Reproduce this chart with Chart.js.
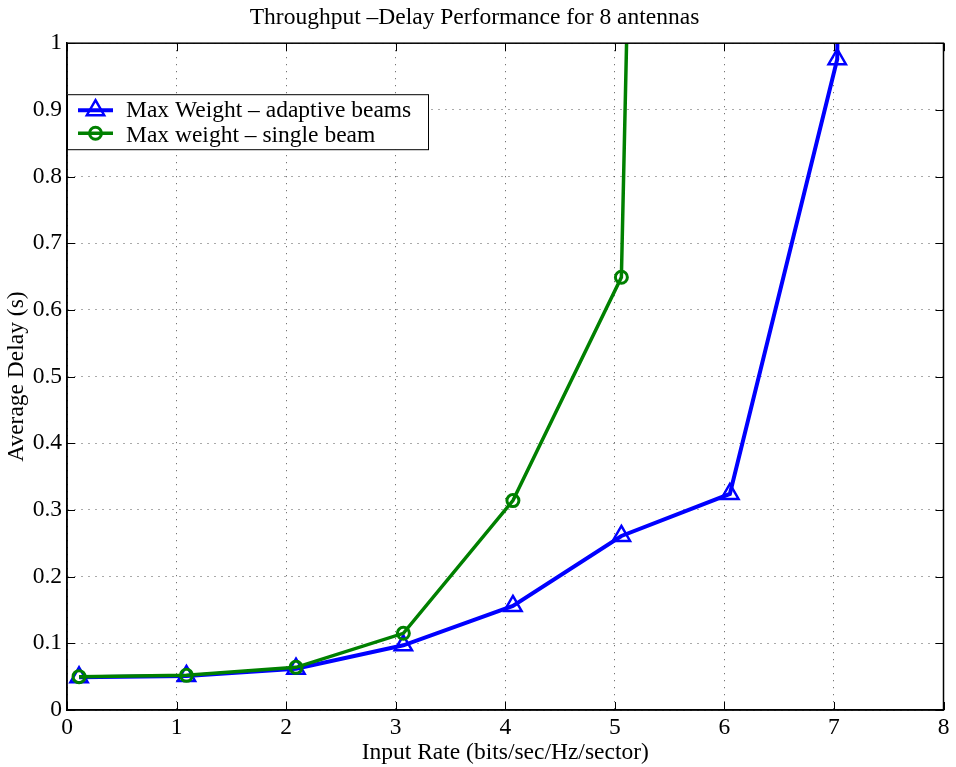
<!DOCTYPE html>
<html>
<head>
<meta charset="utf-8">
<script src="https://cdn.jsdelivr.net/npm/chart.js@4/dist/chart.umd.min.js"></script>
<style>
    html, body { margin: 0; padding: 0; background: #fff; }
    #wrap { width: 956px; height: 767px; }
</style>
</head>
<body>
<div id="wrap"><canvas id="delayChart" width="956" height="767"></canvas></div>
<script>
// Throughput-delay data
const adaptiveRate  = [0.11, 1.09, 2.09, 3.07, 4.07, 5.06, 6.05, 7.03, 8.0];
const adaptiveDelay = [0.049, 0.051, 0.062, 0.097, 0.156, 0.261, 0.324, 0.976, 20];
const singleRate    = [0.11, 1.09, 2.09, 3.07, 4.07, 5.06, 6.05];
const singleDelay   = [0.050, 0.052, 0.064, 0.115, 0.314, 0.649, 8];
const xTicks = [0, 1, 2, 3, 4, 5, 6, 7, 8];
const yTicks = [0, 0.1, 0.2, 0.3, 0.4, 0.5, 0.6, 0.7, 0.8, 0.9, 1];
const seriesLabels = ['Max Weight \u2013 adaptive beams', 'Max weight \u2013 single beam'];

const SERIF = '"Liberation Serif", "DejaVu Serif", serif';
const FONT_SIZE = 23.5;

function toPoints(xs, ys) {
    return xs.map((x, i) => ({ x: x, y: ys[i] }));
}

// box round the plot, inward ticks and the legend inside the axes
const framePlugin = {
    id: 'frame',
    afterDraw(chart) {
        const ctx = chart.ctx;
        const a = chart.chartArea;
        const xs = chart.scales.x;
        const ys = chart.scales.y;
        ctx.save();
        ctx.strokeStyle = '#000';
        ctx.lineWidth = 1;
        ctx.beginPath();
        xTicks.forEach(v => {
            const px = Math.round(xs.getPixelForValue(v)) + 0.5;
            ctx.moveTo(px, a.bottom); ctx.lineTo(px, a.bottom - 8);
            ctx.moveTo(px, a.top); ctx.lineTo(px, a.top + 8);
        });
        yTicks.forEach(v => {
            const py = Math.round(ys.getPixelForValue(v)) + 0.5;
            ctx.moveTo(a.left, py); ctx.lineTo(a.left + 8, py);
            ctx.moveTo(a.right, py); ctx.lineTo(a.right - 8, py);
        });
        ctx.stroke();
        ctx.lineWidth = 1.5;
        ctx.strokeRect(a.left, a.top, a.right - a.left, a.bottom - a.top);

        // legend
        const lx = a.left, ly = a.top + 51, lw = 361, lh = 55;
        ctx.fillStyle = '#fff';
        ctx.fillRect(lx, ly, lw, lh);
        ctx.lineWidth = 1;
        ctx.strokeRect(lx + 0.5, ly + 0.5, lw, lh);
        ctx.font = FONT_SIZE + 'px ' + SERIF;
        ctx.textBaseline = 'alphabetic';
        chart.data.datasets.forEach((ds, i) => {
            const cy = ly + 16 + i * 23;
            ctx.strokeStyle = ds.borderColor;
            ctx.lineWidth = ds.borderWidth;
            ctx.beginPath();
            ctx.moveTo(lx + 11, cy); ctx.lineTo(lx + 46, cy);
            ctx.stroke();
            ctx.lineWidth = ds.pointBorderWidth;
            ctx.fillStyle = 'rgba(0,0,0,0)';
            Chart.helpers.drawPoint(ctx, {
                pointStyle: ds.pointStyle,
                radius: ds.pointRadius,
                borderWidth: ds.pointBorderWidth
            }, lx + 28.5, cy);
            ctx.fillStyle = '#000';
            ctx.fillText(ds.label, lx + 59, ly + 23 + i * 25);
        });
        ctx.restore();
    }
};

new Chart(document.getElementById('delayChart'), {
    type: 'line',
    data: {
        datasets: [{
            label: seriesLabels[0],
            data: toPoints(adaptiveRate, adaptiveDelay),
            borderColor: '#0000ff',
            backgroundColor: 'rgba(0,0,0,0)',
            borderWidth: 4,
            pointStyle: 'triangle',
            pointRadius: 10,
            pointBorderWidth: 2.5,
            pointBackgroundColor: 'rgba(0,0,0,0)',
            pointBorderColor: '#0000ff',
            tension: 0,
            order: 2
        }, {
            label: seriesLabels[1],
            data: toPoints(singleRate, singleDelay),
            borderColor: '#008000',
            backgroundColor: 'rgba(0,0,0,0)',
            borderWidth: 3.5,
            pointStyle: 'circle',
            pointRadius: 6,
            pointBorderWidth: 3,
            pointBackgroundColor: 'rgba(0,0,0,0)',
            pointBorderColor: '#008000',
            tension: 0,
            order: 1
        }]
    },
    options: {
        responsive: false,
        animation: false,
        layout: { padding: { left: 0, right: 7, top: 0, bottom: 0 } },
        scales: {
            x: {
                type: 'linear',
                min: 0,
                max: 8,
                afterBuildTicks: s => { s.ticks = xTicks.map(v => ({ value: v })); },
                afterFit: s => { s.height = 57; },
                ticks: {
                    color: '#000',
                    padding: 4,
                    font: { family: SERIF, size: FONT_SIZE },
                    callback: v => String(v)
                },
                grid: {
                    color: '#555',
                    lineWidth: 1,
                    drawTicks: false
                },
                border: { display: true, color: '#000', width: 1.5, dash: [1, 6] },
                title: {
                    display: true,
                    text: 'Input Rate (bits/sec/Hz/sector)',
                    color: '#000',
                    font: { family: SERIF, size: FONT_SIZE },
                    padding: { top: 0, bottom: 0 }
                }
            },
            y: {
                min: 0,
                max: 1,
                afterBuildTicks: s => { s.ticks = yTicks.map(v => ({ value: v })); },
                afterFit: s => { s.width = 67; },
                ticks: {
                    color: '#000',
                    padding: 5,
                    font: { family: SERIF, size: FONT_SIZE },
                    callback: v => String(v)
                },
                grid: {
                    color: '#555',
                    lineWidth: 1,
                    drawTicks: false
                },
                border: { display: true, color: '#000', width: 1.5, dash: [1, 6] },
                title: {
                    display: true,
                    text: 'Average Delay (s)',
                    color: '#000',
                    font: { family: SERIF, size: FONT_SIZE },
                    padding: { top: 3, bottom: 0 }
                }
            }
        },
        plugins: {
            legend: { display: false },
            tooltip: { enabled: false },
            title: {
                display: true,
                text: 'Throughput \u2013Delay Performance for 8 antennas',
                color: '#000',
                font: { family: SERIF, size: FONT_SIZE, weight: 'normal' },
                padding: { top: 4, bottom: 11 }
            }
        }
    },
    plugins: [framePlugin]
});
</script>
</body>
</html>
